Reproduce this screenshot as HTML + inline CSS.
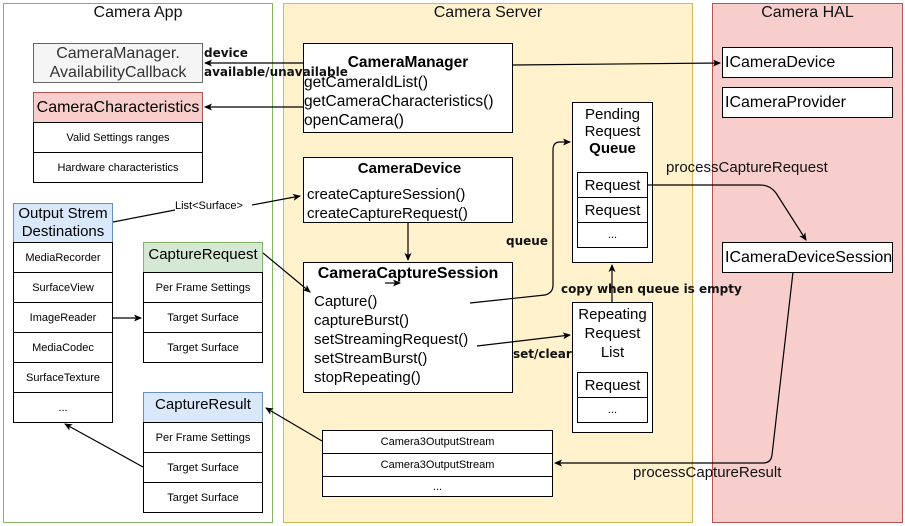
<!DOCTYPE html>
<html><head><meta charset="utf-8"><style>
*{box-sizing:border-box;margin:0;padding:0}
body{width:905px;height:526px;position:relative;background:#fff;font-family:"Liberation Sans",sans-serif;overflow:hidden}
.b{position:absolute;border:1.3px solid #000;background:#fff;display:flex;align-items:center;justify-content:center;text-align:center;color:#000}
.s{font-size:11px}
.m{font-size:15px;line-height:17px}
.t{position:absolute;font-size:15px;color:#111}
.lbl{position:absolute;font-weight:bold;color:#111;font-family:"DejaVu Sans",sans-serif;font-size:12px}
svg{position:absolute;left:0;top:0}
</style></head><body>
<div style="position:absolute;left:3px;top:3px;width:270px;height:520px;border:1.3px solid #82b366;background:#fff"></div>
<div style="position:absolute;left:283px;top:3px;width:410px;height:520px;border:1.3px solid #d6b656;background:#fff2cc"></div>
<div style="position:absolute;left:712px;top:3px;width:191px;height:520px;border:1.3px solid #b85450;background:#f8cecc"></div>
<div class="t" style="left:3px;width:270px;top:4px;text-align:center;font-size:16px">Camera App</div>
<div class="t" style="left:283px;width:410px;top:4px;text-align:center;font-size:16px">Camera Server</div>
<div class="t" style="left:712px;width:191px;top:4px;text-align:center;font-size:16px">Camera HAL</div>

<div class="b m" style="left:33px;top:43px;width:170px;height:40px;background:#f5f5f5;border-color:#666;color:#333;font-size:16px;line-height:19px">CameraManager.<br>AvailabilityCallback</div>
<div class="b" style="left:33px;top:92px;width:170px;height:31px;background:#f8cecc;border-color:#b85450;font-size:16px">CameraCharacteristics</div>
<div class="b s" style="left:33px;top:122px;width:170px;height:31px">Valid Settings ranges</div>
<div class="b s" style="left:33px;top:152px;width:170px;height:31px">Hardware characteristics</div>

<div class="b" style="left:13px;top:203px;width:100px;height:40px;background:#dae8fc;border-color:#6c8ebf;font-size:15px;line-height:18px">Output Strem<br>Destinations</div>
<div class="b s" style="left:13px;top:242px;width:100px;height:31px">MediaRecorder</div>
<div class="b s" style="left:13px;top:272px;width:100px;height:31px">SurfaceView</div>
<div class="b s" style="left:13px;top:302px;width:100px;height:31px">ImageReader</div>
<div class="b s" style="left:13px;top:332px;width:100px;height:31px">MediaCodec</div>
<div class="b s" style="left:13px;top:362px;width:100px;height:31px">SurfaceTexture</div>
<div class="b s" style="left:13px;top:392px;width:100px;height:31px">...</div>

<div class="b" style="left:143px;top:242px;width:120px;height:31px;background:#d5e8d4;border-color:#82b366;font-size:15px;align-items:flex-start;padding-top:3px">CaptureRequest</div>
<div class="b s" style="left:143px;top:272px;width:120px;height:31px">Per Frame Settings</div>
<div class="b s" style="left:143px;top:302px;width:120px;height:31px">Target Surface</div>
<div class="b s" style="left:143px;top:332px;width:120px;height:31px">Target Surface</div>

<div class="b" style="left:143px;top:392px;width:120px;height:31px;background:#dae8fc;border-color:#6c8ebf;font-size:15px;align-items:flex-start;padding-top:3px">CaptureResult</div>
<div class="b s" style="left:143px;top:422px;width:120px;height:31px">Per Frame Settings</div>
<div class="b s" style="left:143px;top:452px;width:120px;height:31px">Target Surface</div>
<div class="b s" style="left:143px;top:482px;width:120px;height:31px">Target Surface</div>

<div class="b m" style="left:303px;top:43px;width:210px;height:90px;display:block;text-align:left;padding-top:10px;font-size:15.5px">
<div style="text-align:center;font-weight:bold;margin-bottom:2px">CameraManager</div>
<div style="line-height:19px">getCameraIdList()<br>getCameraCharacteristics()<br>openCamera()</div></div>
<div class="b m" style="left:303px;top:157px;width:210px;height:66px;display:block;text-align:left;padding:2px 0 0 3px">
<div style="text-align:center;font-weight:bold;margin-bottom:8px">CameraDevice</div>
<div style="line-height:19px">createCaptureSession()<br>createCaptureRequest()</div></div>
<div class="b m" style="left:303px;top:262px;width:210px;height:131px;display:block;text-align:left;padding:2px 0 0 10px">
<div style="text-align:center;font-weight:bold;margin-bottom:10px;padding-right:10px;font-size:16px">CameraCaptureSession</div>
<div style="line-height:19px">Capture()<br>captureBurst()<br>setStreamingRequest()<br>setStreamBurst()<br>stopRepeating()</div></div>

<div class="b m" style="left:572px;top:102px;width:81px;height:161px;align-items:flex-start;padding-top:3px"><div>Pending<br>Request<br><b>Queue</b></div></div>
<div class="b m" style="left:577px;top:172px;width:71px;height:26px">Request</div>
<div class="b m" style="left:577px;top:197px;width:71px;height:26px">Request</div>
<div class="b s" style="left:577px;top:222px;width:71px;height:26px">...</div>

<div class="b m" style="left:572px;top:302px;width:81px;height:131px;align-items:flex-start;padding-top:2px;line-height:19px"><div>Repeating<br>Request<br>List</div></div>
<div class="b m" style="left:577px;top:372px;width:71px;height:26px">Request</div>
<div class="b s" style="left:577px;top:397px;width:71px;height:26px">...</div>

<div class="b s" style="left:322px;top:430px;width:231px;height:24px">Camera3OutputStream</div>
<div class="b s" style="left:322px;top:453px;width:231px;height:24px">Camera3OutputStream</div>
<div class="b s" style="left:322px;top:476px;width:231px;height:21px">...</div>

<div class="b m" style="left:722px;top:47px;width:171px;height:31px;justify-content:flex-start;padding-left:2px;font-size:16px">ICameraDevice</div>
<div class="b m" style="left:722px;top:87px;width:171px;height:31px;justify-content:flex-start;padding-left:2px;font-size:16px">ICameraProvider</div>
<div class="b m" style="left:722px;top:242px;width:171px;height:31px;justify-content:flex-start;padding-left:2px;font-size:16px">ICameraDeviceSession</div>

<div class="lbl" style="left:204px;top:46px">device</div>
<div class="lbl" style="left:204px;top:65px">available/unavailable</div>
<div class="lbl" style="left:506px;top:234px">queue</div>
<div class="lbl" style="left:561px;top:282px">copy when queue is empty</div>
<div class="lbl" style="left:513px;top:347px">set/clear</div>
<div class="t" style="left:666px;top:159px">processCaptureRequest</div>
<div class="t" style="left:633px;top:464px">processCaptureResult</div>
<div style="position:absolute;left:175px;top:200px;font-size:11px;background:#fff;line-height:12px">List&lt;Surface&gt;</div>

<svg width="905" height="526" viewBox="0 0 905 526">
<defs><marker id="a" markerWidth="8" markerHeight="8" refX="7" refY="4" orient="auto" markerUnits="userSpaceOnUse"><path d="M0,0.5 L8,4 L0,7.5 L2,4Z" fill="#000"/></marker></defs>
<g stroke="#000" stroke-width="1.2" fill="none">
<line x1="303" y1="63" x2="205" y2="63" marker-end="url(#a)"/>
<line x1="303" y1="107" x2="205" y2="107" marker-end="url(#a)"/>
<line x1="513" y1="65" x2="720" y2="63" marker-end="url(#a)"/>
<line x1="113" y1="222" x2="175" y2="210"/>
<line x1="252" y1="205" x2="300" y2="196" marker-end="url(#a)"/>
<line x1="408" y1="223" x2="408" y2="260" marker-end="url(#a)"/>
<line x1="263" y1="253" x2="310" y2="292" marker-end="url(#a)"/>
<line x1="113" y1="318" x2="141" y2="318" marker-end="url(#a)"/>
<line x1="143" y1="467" x2="65" y2="424" marker-end="url(#a)"/>
<line x1="322" y1="441" x2="266" y2="408" marker-end="url(#a)"/>
<path d="M470,303 L545,295 Q553,293 553,285 L553,150 Q553,142 560,142 L570,142" marker-end="url(#a)"/>
<line x1="477" y1="346" x2="570" y2="335" marker-end="url(#a)"/>
<line x1="612" y1="302" x2="612" y2="265" marker-end="url(#a)"/>
<path d="M648,185 L760,185 Q770,185 776,193 L806,240" marker-end="url(#a)"/>
<path d="M793,272 L772,455 Q771,463 763,463 L555,463" marker-end="url(#a)"/>
<line x1="385" y1="283" x2="400" y2="283" marker-end="url(#a)"/>
</g></svg>
</body></html>
